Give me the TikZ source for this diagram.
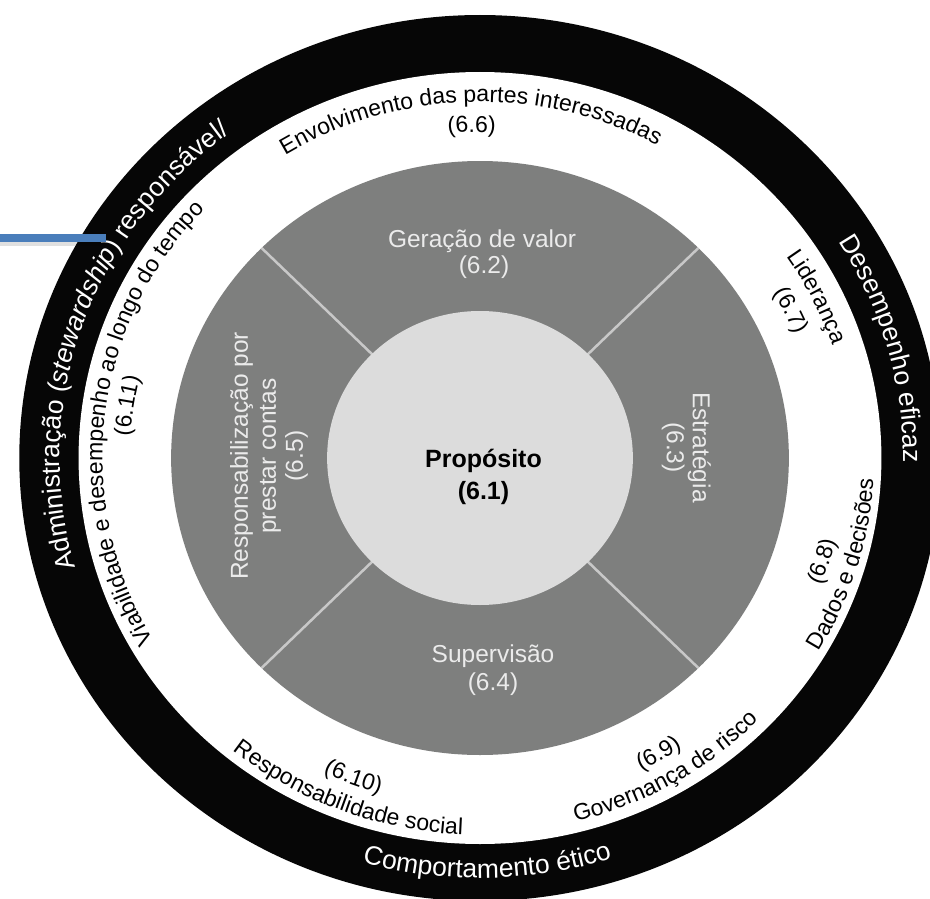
\documentclass[tikz,border=0pt]{standalone}
\usepackage{fontspec}
\setmainfont{Liberation Sans}
\usetikzlibrary{decorations.text}
\definecolor{ringblack}{HTML}{060606}
\definecolor{ringgray}{HTML}{7E7F7E}
\definecolor{corelight}{HTML}{DCDCDC}
\definecolor{graytext}{HTML}{EBEBEB}
\definecolor{divider}{HTML}{C8C8C8}
\definecolor{barblue}{HTML}{4A7EBB}
\newcommand\ringfnt{\fontsize{26.5}{30}\selectfont}
\newcommand\lblfnt{\fontsize{23}{27}\selectfont}
% clockwise arc text: #1 centre angle, #2 baseline radius (y), #3 half span, #4 colour, #5 format, #6 text
\newcommand\CWtext[6]{%
  \path[decorate,decoration={text along path,text align=center,text color=#4,text={|#5|#6}}]
    ({#1+#3}:{1.04*#2} and {#2}) arc[start angle={#1+#3},end angle={#1-#3},x radius={1.04*#2},y radius={#2}];}
% counter-clockwise arc text
\newcommand\CCWtext[6]{%
  \path[decorate,decoration={text along path,text align=center,text color=#4,text={|#5|#6}}]
    ({#1-#3}:{1.04*#2} and {#2}) arc[start angle={#1-#3},end angle={#1+#3},x radius={1.04*#2},y radius={#2}];}
\begin{document}
\begin{tikzpicture}[x=1pt,y=1pt,
  graylbl/.style={text=graytext,font=\fontsize{24.5}{28}\selectfont,inner sep=0pt,anchor=base},
  corelbl/.style={text=black,font=\fontsize{25}{29}\selectfont\bfseries,inner sep=0pt,anchor=base}]
\useasboundingbox (-480,-440) rectangle (450,458);
\clip (-480,-440) rectangle (450,458);
\fill[white] (-480,-440) rectangle (450,458);
% rings
\fill[ringblack] (0,0) ellipse[x radius={1.04*443},y radius=443];
\fill[white] (0,0) ellipse[x radius={1.04*386},y radius=386];
\fill[ringgray] (0,0) ellipse[x radius={1.04*297},y radius=297];
\foreach \a in {45,135,225,315}
  \draw[divider,line width=2.5] (\a:{1.04*140} and 140) -- (\a:{1.04*297} and 297);
\fill[corelight] (0,0) ellipse[x radius={1.04*147},y radius=147];
% black ring texts
\CWtext{161.5}{404}{75}{white}{\ringfnt}{Administração (|\ringfnt\itshape|stewardship|\ringfnt|) responsável/}
\CWtext{15.5}{407}{45}{white}{\ringfnt}{Desempenho eficaz}
\CCWtext{271}{420}{45}{white}{\ringfnt}{Comportamento ético}
% white ring labels
\CWtext{91.6}{356}{60}{black}{\lblfnt}{Envolvimento das partes interessadas}
\CWtext{91.4}{326}{30}{black}{\lblfnt}{(6.6)}
\CWtext{26.2}{357}{30}{black}{\lblfnt}{Liderança}
\CWtext{26}{327}{30}{black}{\lblfnt}{(6.7)}
\CCWtext{-16.75}{379}{40}{black}{\lblfnt}{Dados e decisões}
\CCWtext{-17.3}{352}{30}{black}{\lblfnt}{(6.8)}
\CCWtext{-59.75}{375}{40}{black}{\lblfnt}{Governança de risco}
\CCWtext{-59.7}{349}{30}{black}{\lblfnt}{(6.9)}
\CCWtext{248.9}{377}{45}{black}{\lblfnt}{Responsabilidade social}
\CCWtext{249}{349}{30}{black}{\lblfnt}{(6.10)}
\CWtext{173.6}{363}{70}{black}{\lblfnt}{Viabilidade e desempenho ao longo do tempo}
\CWtext{171.3}{337}{30}{black}{\lblfnt}{(6.11)}
% gray ring labels
\node[graylbl] (gv) at (2,211) {Geração de valor};
\node[graylbl] (gvn) at (4,185) {(6.2)};
\node[graylbl,rotate=-90] (es) at (213,10.5) {Estratégia};
\node[graylbl,rotate=-90] (esn) at (187,10.5) {(6.3)};
\node[graylbl] (sp) at (13,-204) {Supervisão};
\node[graylbl] (spn) at (13,-232) {(6.4)};
\node[graylbl,rotate=90] (rp1) at (-232,2) {Responsabilização por};
\node[graylbl,rotate=90] (rp2) at (-204,2) {prestar contas};
\node[graylbl,rotate=90] (rpn) at (-177,2) {(6.5)};
% centre
\node[corelbl] (pp) at (3.5,-9) {Propósito};
\node[corelbl] (ppn) at (3.5,-41) {(6.1)};
% stray blue bar
\fill[black,opacity=0.12] (-480,216) rectangle (-375,212);
\fill[barblue] (-480,224) rectangle (-374,216);
\end{tikzpicture}
\end{document}
